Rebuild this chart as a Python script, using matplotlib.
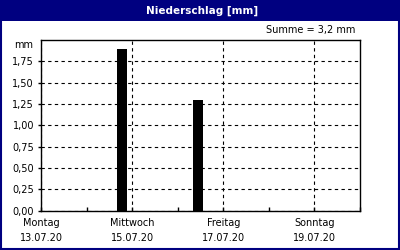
import matplotlib
matplotlib.use("Agg")
import matplotlib.pyplot as plt
import matplotlib.dates as mdates
import pandas as pd
from matplotlib.patches import Rectangle

# Niederschlag pro Ereignis
bar_times = ["2020-07-14 18:40", "2020-07-16 10:40"]
bar_values = [1.9, 1.3]
summe_text = "Summe = 3,2 mm"

start = "2020-07-13"
end = "2020-07-20"
day_names = ["Montag", "Dienstag", "Mittwoch", "Donnerstag", "Freitag", "Samstag", "Sonntag"]

y_ticks = [0.0, 0.25, 0.5, 0.75, 1.0, 1.25, 1.5, 1.75]
y_labels = ["0,00", "0,25", "0,50", "0,75", "1,00", "1,25", "1,50", "1,75"]

navy = "#000080"

fig = plt.figure(figsize=(4, 2.5), dpi=100)
fig.patch.set_facecolor("white")

# Titelleiste und Rahmen
fig.patches.append(Rectangle((0, 0.918), 1, 0.082, transform=fig.transFigure,
                             facecolor=navy, edgecolor="none", zorder=0))
fig.patches.append(Rectangle((0.002, 0.003), 0.996, 0.995, transform=fig.transFigure,
                             facecolor="none", edgecolor=navy, linewidth=1.5, zorder=0))
fig.text(0.505, 0.958, "Niederschlag [mm]", color="white", fontsize=7.5,
         fontweight="bold", ha="center", va="center")
fig.text(0.888, 0.878, summe_text, fontsize=7, ha="right", va="center")

ax = fig.add_axes([0.1025, 0.157, 0.7975, 0.683])

times = pd.to_datetime(bar_times)
ax.bar(times, bar_values, width=0.22, color="black", zorder=3)

ax.set_xlim(pd.Timestamp(start), pd.Timestamp(end))
ax.set_ylim(0, 2.0)

days = pd.date_range(start, end, freq="D")
major = days[::2][:4]
ax.set_xticks(major)
ax.set_xticklabels([f"{day_names[d.dayofweek]}\n{d.strftime('%d.%m.%y')}" for d in major],
                   fontsize=7, linespacing=1.7)
ax.set_xticks(days, minor=True)
ax.tick_params(axis="x", which="both", direction="in", length=3, width=1, pad=5)

ax.set_yticks(y_ticks)
ax.set_yticklabels(y_labels, fontsize=7)
ax.tick_params(axis="y", direction="out", length=2, width=1, pad=3)
ax.text(-0.025, 1.0, "mm", transform=ax.transAxes, fontsize=7, ha="right", va="top")

ax.grid(True, which="major", color="black", linestyle=(0, (3, 3)), linewidth=0.8)
ax.set_axisbelow(True)
for s in ax.spines.values():
    s.set_linewidth(1)
    s.set_color("black")

fig.savefig("out.png", dpi=100)
